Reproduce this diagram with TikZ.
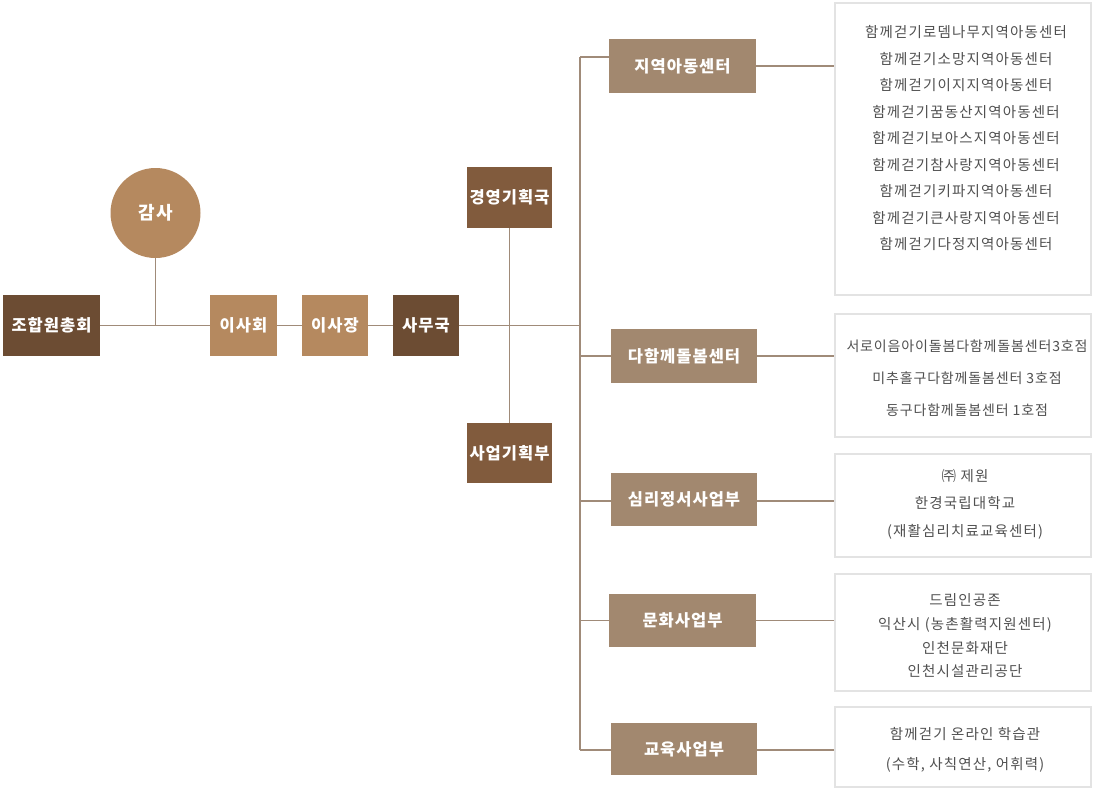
\documentclass[tikz,border=0pt]{standalone}
\usepackage{fontspec}
\setmainfont{Noto Sans CJK KR}
\newfontfamily\lblfont[LetterSpace=6]{Noto Sans CJK KR}
\newfontfamily\lstfont[LetterSpace=8]{Noto Sans CJK KR}
\newfontfamily\lstfonttight[LetterSpace=6]{Noto Sans CJK KR}
\begin{document}
\begin{tikzpicture}[x=1pt,y=-1pt,
  lbl/.style={text=white,font=\lblfont\fontsize{16.5}{20}\selectfont\bfseries,inner sep=0pt,anchor=center},
  dark/.style={lbl,fill=darkbr},
  mid/.style={lbl,fill=midbr},
  light/.style={lbl,fill=lightbr},
  dept/.style={lbl,fill=deptbr,minimum width=146pt,minimum height=54pt},
  list/.style={draw=listgray,line width=2pt,fill=white,minimum width=256pt},
  listtxt/.style={text=txtgray,font=\lstfont\fontsize{14.5}{#1}\selectfont,align=center,inner sep=0pt},
  conn/.style={draw=linebr,line width=1.5pt}]
\definecolor{darkbr}{HTML}{6C4C33}
\definecolor{midbr}{HTML}{815B3D}
\definecolor{lightbr}{HTML}{B5895F}
\definecolor{deptbr}{HTML}{A2886F}
\definecolor{listgray}{HTML}{E3E3E3}
\definecolor{txtgray}{HTML}{505050}
\definecolor{linebr}{HTML}{A08B79}
\useasboundingbox (0,0) rectangle (1100,788);
% left chain
\node[dark,minimum width=97pt,minimum height=61pt] (jhc) at (51.5,325.5) {조합원총회};
\node[light,circle,minimum size=90pt,font=\lblfont\fontsize{18}{20}\selectfont\bfseries] (gamsa) at (155.5,213) {감사};
\node[light,minimum width=67pt,minimum height=61pt] (isahoe) at (243.5,325.5) {이사회};
\node[light,minimum width=66pt,minimum height=61pt] (isajang) at (335,325.5) {이사장};
\node[dark,minimum width=66pt,minimum height=61pt] (samuguk) at (426,325.5) {사무국};
\node[mid,minimum width=85pt,minimum height=61pt] (gyeong) at (509.5,197.5) {경영기획국};
\node[mid,minimum width=85pt,minimum height=60pt] (saeop) at (509.5,453) {사업기획부};
% departments
\node[dept,minimum width=147pt] (jiyeok) at (682.5,66) {지역아동센터};
\node[dept] (daham) at (684,356) {다함께돌봄센터};
\node[dept,minimum height=53pt] (simri) at (684,499.5) {심리정서사업부};
\node[dept,minimum width=147pt,minimum height=53pt] (munhwa) at (682.5,620.5) {문화사업부};
\node[dept,minimum height=52pt] (gyoyuk) at (684,749) {교육사업부};
% lists
\node[list,minimum height=292pt] (r1) at (963,149) {};
\node[list,minimum height=123pt] (r2) at (963,375.5) {};
\node[list,minimum height=103pt] (r3) at (963,505.5) {};
\node[list,minimum height=117pt] (r4) at (963,632.5) {};
\node[list,minimum height=80pt] (r5) at (963,747) {};
\node[listtxt=26.5pt] (t1) at (966,138.5) {함께걷기로뎀나무지역아동센터\\함께걷기소망지역아동센터\\함께걷기이지지역아동센터\\함께걷기꿈동산지역아동센터\\함께걷기보아스지역아동센터\\함께걷기참사랑지역아동센터\\함께걷기키파지역아동센터\\함께걷기큰사랑지역아동센터\\함께걷기다정지역아동센터};
\node[listtxt=32pt,font=\lstfonttight\fontsize{14}{32}\selectfont] (t2) at (967,378) {서로이음아이돌봄다함께돌봄센터3호점\\미추홀구다함께돌봄센터 3호점\\동구다함께돌봄센터 1호점};
\node[listtxt=27.5pt] (t3) at (965,504) {㈜ 제원\\한경국립대학교\\(재활심리치료교육센터)};
\node[listtxt=23.7pt] (t4) at (965,636) {드림인공존\\익산시 (농촌활력지원센터)\\인천문화재단\\인천시설관리공단};
\node[listtxt=30pt] (t5) at (965,750) {함께걷기 온라인 학습관\\(수학, 사칙연산, 어휘력)};
% connectors
\coordinate (gj) at (155.5,325.5);
\coordinate (ttop) at (580,57);
\coordinate (tbot) at (580,750);
\draw[conn] (gamsa.south) -- (gj);
\draw[conn] (jhc.east) -- (isahoe.west);
\draw[conn] (isahoe.east) -- (isajang.west);
\draw[conn] (isajang.east) -- (samuguk.west);
\draw[conn] (samuguk.east) -- (samuguk.east -| ttop);
\draw[conn] (gyeong.south) -- (saeop.north);
\draw[conn] (ttop) -- (tbot);
\draw[conn] (ttop) -- (ttop -| jiyeok.west);
\draw[conn] (daham.west -| ttop) -- (daham.west);
\draw[conn] (ttop |- 0,501) -- (simri.west |- 0,501);
\draw[conn] (munhwa.west -| ttop) -- (munhwa.west);
\draw[conn] (tbot) -- (tbot -| gyoyuk.west);
\draw[conn] (jiyeok.east) -- (jiyeok.east -| r1.west);
\draw[conn] (daham.east) -- (daham.east -| r2.west);
\draw[conn] (simri.east |- 0,501) -- (r3.west |- 0,501);
\draw[conn] (munhwa.east) -- (munhwa.east -| r4.west);
\draw[conn] (gyoyuk.east |- tbot) -- (r5.west |- tbot);
\end{tikzpicture}
\end{document}
